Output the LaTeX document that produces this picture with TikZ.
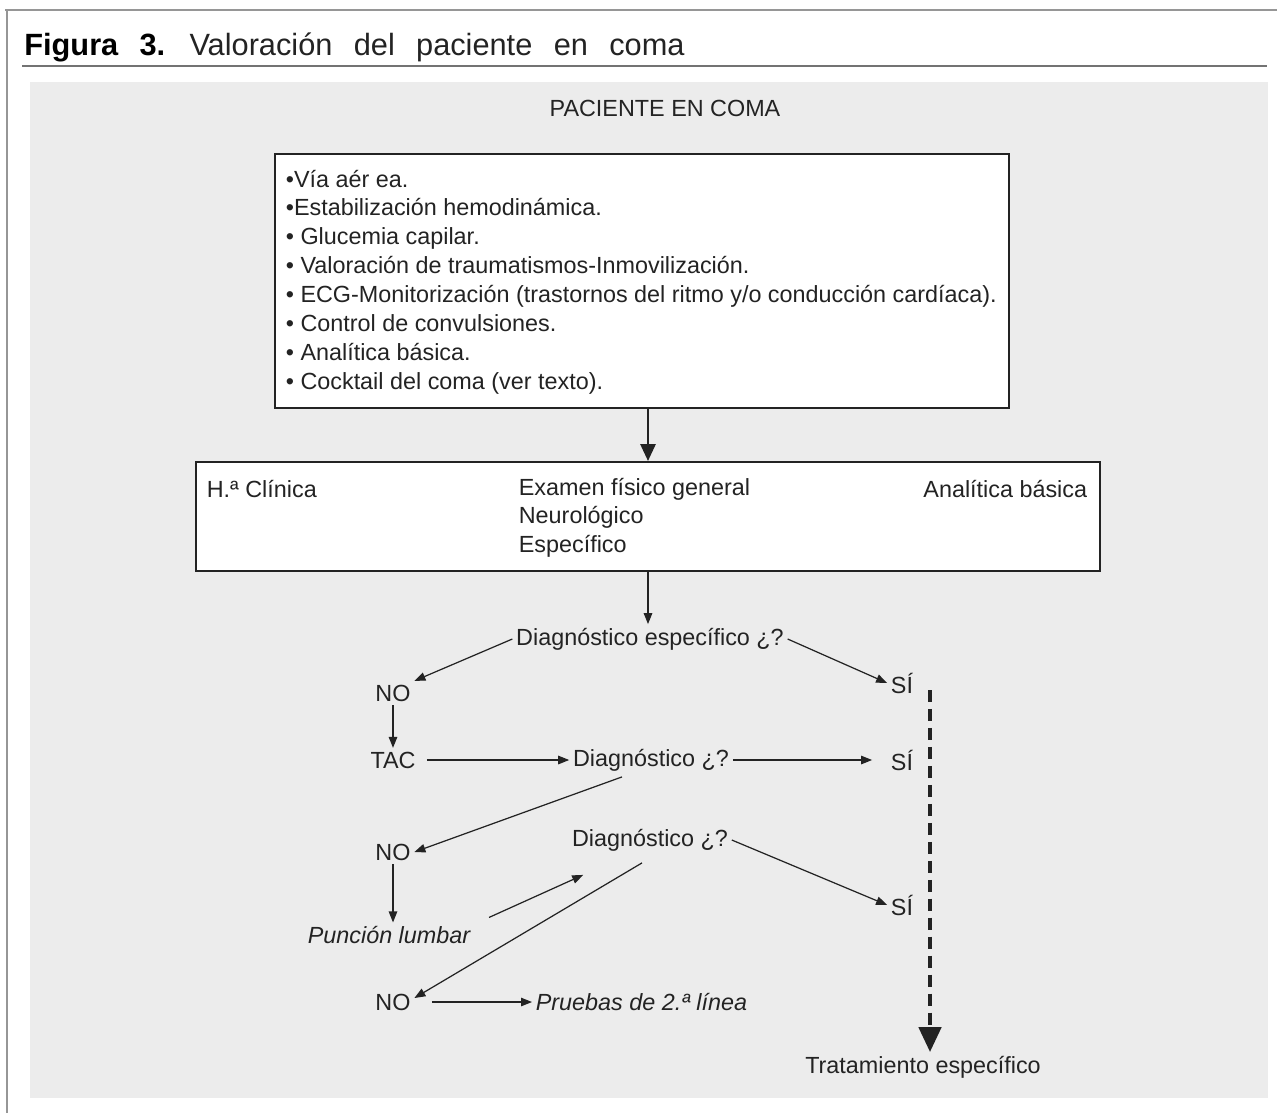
\documentclass[tikz,border=0pt]{standalone}
\usepackage{fontspec}
\setmainfont{Liberation Sans}
\newfontfamily\titlefont[WordSpace=2.5]{Liberation Sans}
\usetikzlibrary{positioning,arrows.meta,calc}
\definecolor{bggray}{RGB}{236,236,236}
\definecolor{ink}{RGB}{35,35,35}
\definecolor{framegray}{RGB}{150,150,150}
\tikzset{
  figbox/.style={draw=ink, line width=1.1pt, fill=white, inner sep=0pt},
  figtext/.style={font=\fontsize{13.3}{16.45}\selectfont, text=ink, inner sep=2pt},
  figit/.style={figtext, font=\fontsize{13.3}{16.45}\selectfont\itshape},
  figarrow/.style={-{Triangle[length=2.2mm,width=1.7mm]}, line width=0.7pt, draw=ink},
  figbigarrow/.style={-{Triangle[length=3.4mm,width=3mm]}, line width=1.6pt, draw=ink},
  figdash/.style={-{Triangle[length=5mm,width=4.4mm]}, line width=2.6pt, draw=ink,
    dash pattern=on 6.8pt off 4pt},
}

\begin{document}
\begin{tikzpicture}[x=0.02cm, y=-0.02cm]
  \useasboundingbox (0,0) rectangle (1277,1113);
  % marco y titulo
  \draw[framegray, line width=0.6pt] (5,10) -- (1277,10);
  \draw[framegray, line width=0.6pt] (7,10) -- (7,1113);
  \node[anchor=base west, inner sep=0pt, text=ink, font=\titlefont\fontsize{17.5}{20}\selectfont]
    (title) at (24,55) {\textcolor{black}{\textbf{Figura 3.}} Valoración del paciente en coma};
  \draw[black!55, line width=1.1pt] (22,66) -- (1267,66);
  \fill[bggray] (30,82) rectangle (1268,1098);

  \node[figtext] (paciente) at (665,108) {PACIENTE EN COMA};
  % medidas iniciales
  \node[figbox, minimum width=14.68cm, minimum height=5.08cm] (box1) at (642,281) {};
  \node[figtext, anchor=north west, align=left] (items) at (282,166)
    {•Vía aér ea.\\
     •Estabilización hemodinámica.\\
     • Glucemia capilar.\\
     • Valoración de traumatismos-Inmovilización.\\
     • ECG-Monitorización (trastornos del ritmo y/o conducción cardíaca).\\
     • Control de convulsiones.\\
     • Analítica básica.\\
     • Cocktail del coma (ver texto).};
  % exploracion
  \node[figbox, minimum width=18.08cm, minimum height=2.18cm] (box2) at (648,516.5) {};
  \node[figtext, anchor=base west] (hist) at (203,497) {H.ª Clínica};
  \node[figtext, anchor=north west, align=left] (exam) at (515,474)
    {Examen físico general\\Neurológico\\Específico};
  \node[figtext, anchor=base east] (anal) at (1091,497) {Analítica básica};
  \draw[figbigarrow] (box1.south -| box2.north) -- (box2.north);
  % arbol de decision
  \node[figtext] (diag1) at (650,639) {Diagnóstico específico ¿?};
  \node[figtext] (no1) at (393,693) {NO};
  \node[figtext] (si1) at (902,683) {SÍ};
  \node[figtext] (tac) at (393,760) {TAC};
  \node[figtext] (diag2) at (651,760) {Diagnóstico ¿?};
  \node[figtext] (si2) at (902,760) {SÍ};
  \node[figtext] (no2) at (393,852) {NO};
  \node[figtext] (diag3) at (650,840) {Diagnóstico ¿?};
  \node[figtext] (si3) at (902,905) {SÍ};
  \node[figit] (puncion) at (389,935) {Punción lumbar};
  \node[figtext] (no3) at (393,1002) {NO};
  \node[figit, anchor=west] (pruebas) at (532,1002) {Pruebas de 2.ª línea};
  \node[figtext] (trat) at (923,1067) {Tratamiento específico};

  \draw[figarrow] (box2.south) -- (box2.south |- diag1.north);
  \draw[figarrow] (diag1.west) -- (no1.north east);
  \draw[figarrow] (diag1.east) -- (si1.west);
  \draw[figarrow] (no1.south) -- (tac.north);
  \draw[figarrow, shorten <=0.15cm] (tac.east) -- (diag2.west);
  \draw[figarrow, shorten >=0.3cm] (diag2.east) -- (si2.west);
  \draw[figarrow] ([xshift=-0.58cm,yshift=-0.04cm]diag2.south) -- (no2.east);
  \draw[figarrow] (diag3.east) -- (si3.west);
  \draw[figarrow] (no2.south) -- (no2.south |- puncion.north);
  \draw[figarrow] ([xshift=0.3cm,yshift=0.1cm]puncion.north east)
    -- ([xshift=0.3cm,yshift=-0.4cm]diag3.south west);
  \draw[figarrow] ([xshift=-0.16cm,yshift=-0.16cm]diag3.south) -- ([yshift=0.08cm]no3.east);
  \draw[figarrow, shorten <=0.35cm] (no3.east) -- (pruebas.west);
  % linea discontinua hacia el tratamiento
  \coordinate (dtop) at (930,690);
  \draw[figdash] (dtop) -- (dtop |- trat.north);
\end{tikzpicture}
\end{document}
